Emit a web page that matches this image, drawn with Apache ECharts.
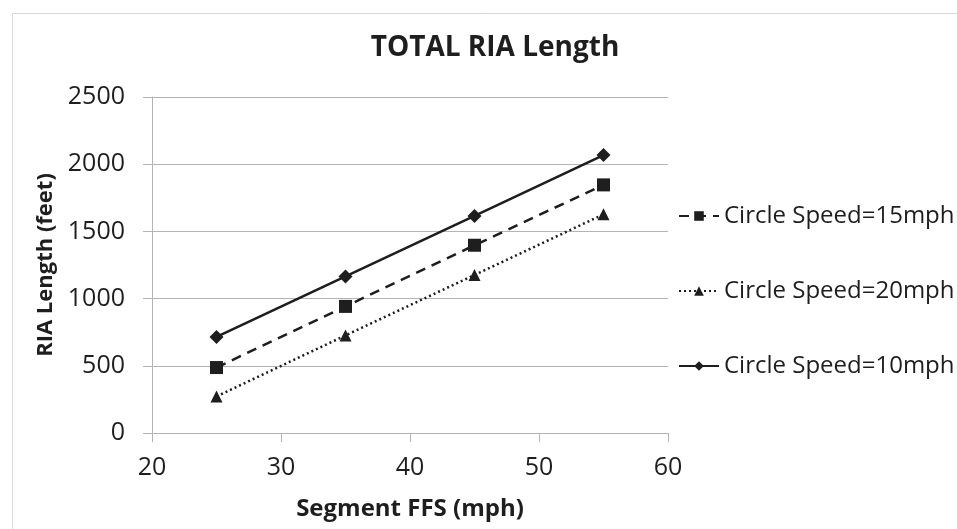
<!DOCTYPE html>
<html>
<head>
<meta charset="utf-8">
<script src="https://cdn.jsdelivr.net/npm/echarts@6/dist/echarts.min.js"></script>
<style>
  html, body { margin: 0; padding: 0; background: #fff; }
  #chart { width: 957px; height: 529px; }
</style>
</head>
<body>
<div id="chart"></div>
<script>
// Segment free-flow speed (mph)
const ffs = [25, 35, 45, 55];
// Total RIA length (feet) for each circulating speed
const speed15 = [487, 942, 1397, 1846];
const speed20 = [272, 726, 1176, 1627];
const speed10 = [715, 1165, 1615, 2068];
const xTicks = { min: 20, max: 60, step: 10 };
const yTicks = { min: 0, max: 2500, step: 500 };

const FONT = '"Open Sans", sans-serif';
const INK = '#1e1e1e';
const GRID = '#b4b4b4';

function pairs(ys) { return ffs.map((x, i) => [x, ys[i]]); }

const chart = echarts.init(document.getElementById('chart'), null, { renderer: 'canvas' });

chart.setOption({
  animation: false,
  backgroundColor: '#fff',
  textStyle: { fontFamily: FONT, color: INK },
  graphic: [{
    type: 'rect', left: 10, top: 11,
    shape: { width: 960, height: 530 },
    style: { fill: 'none', stroke: '#d9d9d9', lineWidth: 1 },
    silent: true
  }],
  title: {
    text: 'TOTAL RIA Length',
    left: 490, top: 29, textAlign: 'center',
    textStyle: { fontFamily: FONT, fontWeight: 'bold', fontSize: 28, color: INK }
  },
  grid: { left: 152, right: 289, top: 97, bottom: 96 },
  legend: {
    orient: 'vertical',
    left: 673, top: 197,
    itemWidth: 40, itemHeight: 12, itemGap: 47,
    textStyle: { fontFamily: FONT, fontSize: 24, color: INK, lineHeight: 28 },
    data: ['Circle Speed=15mph', 'Circle Speed=20mph', 'Circle Speed=10mph']
  },
  xAxis: {
    type: 'value', min: xTicks.min, max: xTicks.max, interval: xTicks.step,
    name: 'Segment FFS (mph)', nameLocation: 'middle', nameGap: 64,
    nameTextStyle: { fontFamily: FONT, fontWeight: 'bold', fontSize: 24, color: INK },
    axisLine: { show: true, lineStyle: { color: GRID, width: 1 } },
    axisTick: { show: true, length: 9, lineStyle: { color: GRID } },
    axisLabel: { margin: 22, fontSize: 25, color: INK, fontFamily: FONT, formatter: v => String(v) },
    splitLine: { show: false }
  },
  yAxis: {
    type: 'value', min: yTicks.min, max: yTicks.max, interval: yTicks.step,
    name: 'RIA Length (feet)', nameLocation: 'middle', nameGap: 90, nameRotate: 90,
    nameTextStyle: { fontFamily: FONT, fontWeight: 'bold', fontSize: 22, color: INK },
    axisLine: { show: true, lineStyle: { color: GRID, width: 1 } },
    axisTick: { show: true, length: 9, lineStyle: { color: GRID } },
    axisLabel: { margin: 27, fontSize: 25, color: INK, fontFamily: FONT, formatter: v => String(v) },
    splitLine: { show: true, lineStyle: { color: GRID, width: 1 } }
  },
  series: [
    {
      name: 'Circle Speed=15mph', type: 'line', data: pairs(speed15),
      symbol: 'rect', symbolSize: 13,
      itemStyle: { color: INK },
      lineStyle: { color: INK, width: 2.5, type: [10, 7] }
    },
    {
      name: 'Circle Speed=20mph', type: 'line', data: pairs(speed20),
      symbol: 'triangle', symbolSize: 12,
      itemStyle: { color: INK },
      lineStyle: { color: INK, width: 2.5, type: [2, 3] }
    },
    {
      name: 'Circle Speed=10mph', type: 'line', data: pairs(speed10),
      symbol: 'diamond', symbolSize: 14,
      itemStyle: { color: INK },
      lineStyle: { color: INK, width: 2.5, type: 'solid' }
    }
  ]
});
</script>
</body>
</html>
